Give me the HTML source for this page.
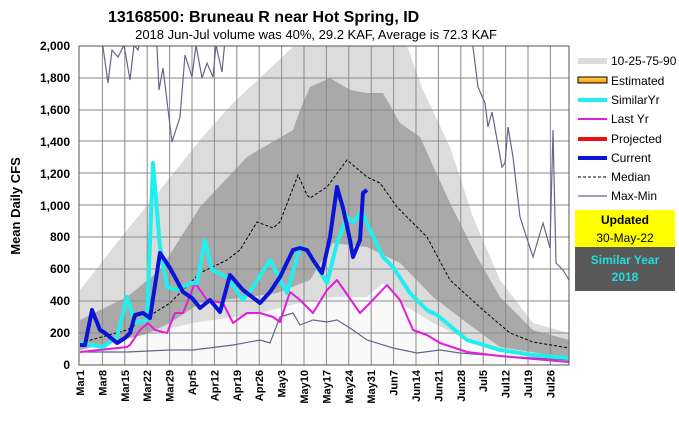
<!DOCTYPE html>
<html><head><meta charset="utf-8"><style>
body{margin:0;background:#fff;}
svg{display:block;font-family:"Liberation Sans",Arial,sans-serif;}
</style></head><body>
<svg width="679" height="428" viewBox="0 0 679 428" xmlns="http://www.w3.org/2000/svg">
<defs><clipPath id="c"><rect x="79" y="46" width="490" height="319"/></clipPath>
<linearGradient id="est" x1="0" y1="0" x2="0" y2="1"><stop offset="0" stop-color="#ffd24d"/><stop offset="1" stop-color="#ff9900"/></linearGradient></defs>
<rect width="679" height="428" fill="#fff"/>
<text x="108" y="22" font-size="16" font-weight="bold">13168500: Bruneau R near Hot Spring, ID</text>
<text x="316" y="39" font-size="13" text-anchor="middle">2018 Jun-Jul volume was 40%, 29.2 KAF, Average is 72.3 KAF</text>
<g clip-path="url(#c)">
<rect x="79" y="46" width="490" height="319" fill="#fff"/>
<polygon fill="#dcdcdc" points="80,290 127,230 160,190 200,140 233,103 293,47 407,46 423,90 450,147 473,217 500,280 533,323 569,333 569,360 500,350 467,340 433,323 400,303 383,283 367,297 333,297 300,303 260,313 193,323 80,350"/>
<polygon fill="#a9a9a9" points="80,320 127,297 160,270 200,207 247,157 293,130 300,110 310,87 330,78 350,90 367,93 383,93 400,123 420,137 450,203 477,257 500,297 533,330 569,340 569,358 500,347 467,323 433,297 400,263 367,247 333,243 310,280 277,293 247,297 200,303 170,323 127,343 80,357"/>
<polygon fill="#f9f9f9" points="80,350 193,323 260,313 300,303 333,297 367,297 383,283 400,303 433,323 467,340 500,350 569,360 569,365 80,365"/>
<g stroke="#8a8a8a" stroke-width="1">
<line x1="79" y1="78" x2="569" y2="78"/><line x1="79" y1="110" x2="569" y2="110"/><line x1="79" y1="141" x2="569" y2="141"/><line x1="79" y1="173" x2="569" y2="173"/><line x1="79" y1="205" x2="569" y2="205"/><line x1="79" y1="237" x2="569" y2="237"/><line x1="79" y1="269" x2="569" y2="269"/><line x1="79" y1="301" x2="569" y2="301"/><line x1="79" y1="333" x2="569" y2="333"/>
<line x1="102.4" y1="46" x2="102.4" y2="365"/><line x1="124.8" y1="46" x2="124.8" y2="365"/><line x1="147.2" y1="46" x2="147.2" y2="365"/><line x1="169.6" y1="46" x2="169.6" y2="365"/><line x1="192" y1="46" x2="192" y2="365"/><line x1="214.4" y1="46" x2="214.4" y2="365"/><line x1="236.8" y1="46" x2="236.8" y2="365"/><line x1="259.2" y1="46" x2="259.2" y2="365"/><line x1="281.6" y1="46" x2="281.6" y2="365"/><line x1="304" y1="46" x2="304" y2="365"/><line x1="326.4" y1="46" x2="326.4" y2="365"/><line x1="348.8" y1="46" x2="348.8" y2="365"/><line x1="371.2" y1="46" x2="371.2" y2="365"/><line x1="393.6" y1="46" x2="393.6" y2="365"/><line x1="416" y1="46" x2="416" y2="365"/><line x1="438.4" y1="46" x2="438.4" y2="365"/><line x1="460.8" y1="46" x2="460.8" y2="365"/><line x1="483.2" y1="46" x2="483.2" y2="365"/><line x1="505.6" y1="46" x2="505.6" y2="365"/><line x1="528" y1="46" x2="528" y2="365"/><line x1="550.4" y1="46" x2="550.4" y2="365"/>
</g>
<polyline fill="none" stroke="#66668a" stroke-width="1.2" points="80,352 127,352 170,350 193,350 233,345 260,340 270,343 280,317 293,313 300,325 313,320 327,322 337,320 350,328 367,340 393,348 417,353 440,350 460,353 500,356 569,360"/>
<polyline fill="none" stroke="#66668a" stroke-width="1.2" points="96,40 103,47 108,83 112,50 118,57 124,45 130,80 134,45 138,50 140,42 145,42 150,40 157,47 159,90 163,68 172,142 180,117 185,55 192,77 196,45 202,78 207,63 213,77 216,45 222,72 225,40"/>
<polyline fill="none" stroke="#66668a" stroke-width="1.2" points="472,40 473,47 478,87 485,103 488,127 492,112 502,167 505,163 508,127 513,157 520,217 533,257 543,223 550,248 553,130 556,263 563,270 569,280"/>
<polyline fill="none" stroke="#000" stroke-width="1" stroke-dasharray="3,2" points="80,343 127,330 170,303 200,273 227,260 240,250 257,222 273,228 280,222 298,175 307,195 310,198 327,187 347,160 367,177 380,183 397,207 427,237 450,280 483,310 510,333 533,342 569,348"/>
<polyline fill="none" stroke="#e020d8" stroke-width="2" stroke-linejoin="round" points="80,352 127,347 130,345 140,330 148,323 155,330 167,333 175,313 183,313 195,283 207,300 223,303 233,323 247,313 260,313 273,317 280,322 290,292 300,300 313,313 327,290 337,280 360,313 370,303 387,285 400,300 413,330 427,335 440,343 467,352 500,356 569,362"/>
<polyline fill="none" stroke="#22eeee" stroke-width="4" stroke-linejoin="round" points="80,343 103,347 117,337 127,297 135,323 147,320 153,163 160,247 167,287 177,290 190,283 197,283 205,240 212,270 227,277 243,300 253,287 270,260 287,293 300,247 307,250 327,283 337,243 347,217 353,222 362,212 370,230 383,257 393,267 410,293 427,310 437,315 467,340 500,350 533,355 569,358"/>
<polyline fill="none" stroke="#0a14d6" stroke-width="4" stroke-linejoin="round" points="80,345 85,345 92,310 100,330 105,333 117,343 125,338 130,333 135,315 143,313 150,318 160,253 170,268 183,292 192,298 200,308 210,300 220,312 230,275 243,290 260,303 270,292 280,277 293,250 300,248 307,250 313,260 322,273 330,237 337,187 343,208 350,240 353,257 360,240 363,193 367,190"/>
</g>
<rect x="79" y="46" width="490" height="319" fill="none" stroke="#555" stroke-width="1"/>
<g font-size="12" font-weight="bold" text-anchor="end">
<text x="70" y="50">2,000</text><text x="70" y="82">1,800</text><text x="70" y="114">1,600</text><text x="70" y="146">1,400</text><text x="70" y="178">1,200</text><text x="70" y="210">1,000</text><text x="70" y="241">800</text><text x="70" y="273">600</text><text x="70" y="305">400</text><text x="70" y="337">200</text><text x="70" y="369">0</text>
</g>
<text transform="translate(20,206) rotate(-90)" font-size="13" font-weight="bold" text-anchor="middle">Mean Daily CFS</text>
<g font-size="11" font-weight="bold" text-anchor="end">
<text transform="translate(84,370) rotate(-90)">Mar1</text><text transform="translate(106.4,370) rotate(-90)">Mar8</text><text transform="translate(128.8,370) rotate(-90)">Mar15</text><text transform="translate(151.2,370) rotate(-90)">Mar22</text><text transform="translate(173.6,370) rotate(-90)">Mar29</text><text transform="translate(196,370) rotate(-90)">Apr5</text><text transform="translate(218.4,370) rotate(-90)">Apr12</text><text transform="translate(240.8,370) rotate(-90)">Apr19</text><text transform="translate(263.2,370) rotate(-90)">Apr26</text><text transform="translate(285.6,370) rotate(-90)">May3</text><text transform="translate(308,370) rotate(-90)">May10</text><text transform="translate(330.4,370) rotate(-90)">May17</text><text transform="translate(352.8,370) rotate(-90)">May24</text><text transform="translate(375.2,370) rotate(-90)">May31</text><text transform="translate(397.6,370) rotate(-90)">Jun7</text><text transform="translate(420,370) rotate(-90)">Jun14</text><text transform="translate(442.4,370) rotate(-90)">Jun21</text><text transform="translate(464.8,370) rotate(-90)">Jun28</text><text transform="translate(487.2,370) rotate(-90)">Jul5</text><text transform="translate(509.6,370) rotate(-90)">Jul12</text><text transform="translate(532,370) rotate(-90)">Jul19</text><text transform="translate(554.4,370) rotate(-90)">Jul26</text>
</g>
<g font-size="12">
<rect x="578" y="58" width="29" height="6" fill="#dcdcdc"/><text x="611" y="65">10-25-75-90</text>
<rect x="578" y="77" width="29" height="6" fill="url(#est)" stroke="#000" stroke-width="1"/><text x="611" y="85">Estimated</text>
<line x1="578" y1="100" x2="607" y2="100" stroke="#22eeee" stroke-width="4"/><text x="611" y="104">SimilarYr</text>
<line x1="578" y1="119" x2="607" y2="119" stroke="#e020d8" stroke-width="2"/><text x="611" y="123">Last Yr</text>
<line x1="578" y1="139" x2="607" y2="139" stroke="#ee1111" stroke-width="4"/><text x="611" y="143">Projected</text>
<line x1="578" y1="158" x2="607" y2="158" stroke="#0a14d6" stroke-width="4"/><text x="611" y="162">Current</text>
<line x1="578" y1="177" x2="607" y2="177" stroke="#000" stroke-width="1" stroke-dasharray="3,2"/><text x="611" y="181">Median</text>
<line x1="578" y1="196" x2="607" y2="196" stroke="#66668a" stroke-width="1.2"/><text x="611" y="200">Max-Min</text>
</g>
<rect x="575" y="210" width="100" height="37" fill="#ffff00"/>
<rect x="575" y="247" width="100" height="44" fill="#595959"/>
<text x="625" y="224" font-size="12" font-weight="bold" text-anchor="middle">Updated</text>
<text x="625" y="242" font-size="12" text-anchor="middle">30-May-22</text>
<text x="625" y="264" font-size="12" font-weight="bold" fill="#22dddd" text-anchor="middle">Similar Year</text>
<text x="625" y="281" font-size="12" font-weight="bold" fill="#22dddd" text-anchor="middle">2018</text>
</svg>
</body></html>
